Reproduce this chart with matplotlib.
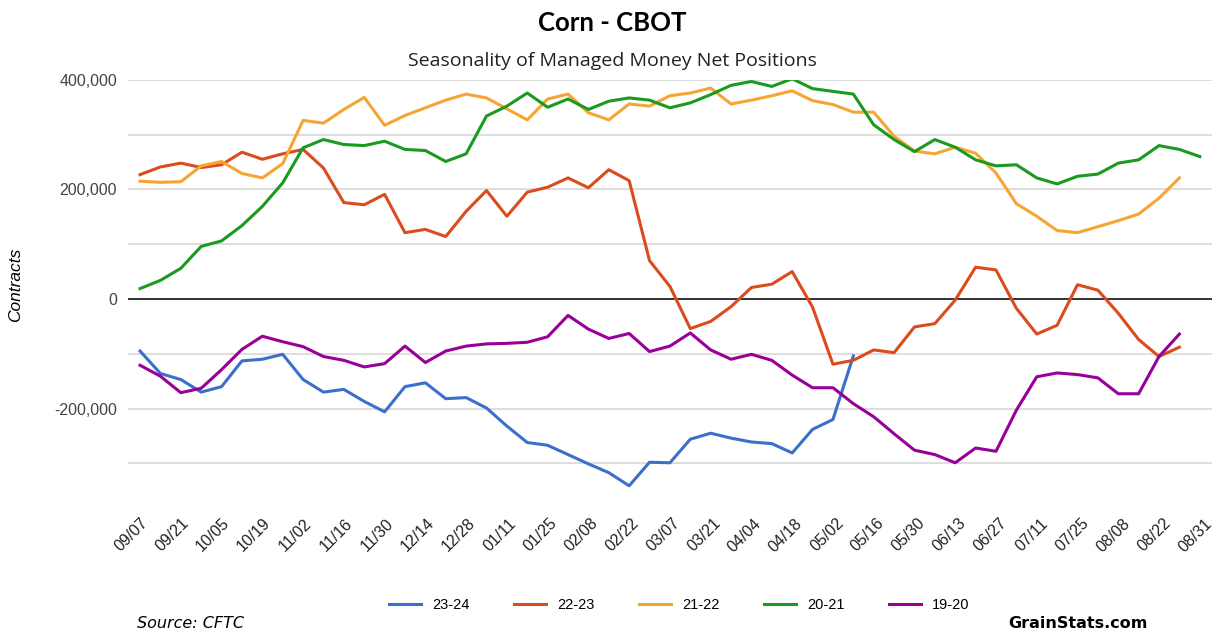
import matplotlib
matplotlib.use("Agg")
import matplotlib.pyplot as plt
import numpy as np
from matplotlib.lines import Line2D

tick_labels = ["09/07","09/21","10/05","10/19","11/02","11/16","11/30","12/14","12/28","01/11","01/25",
               "02/08","02/22","03/07","03/21","04/04","04/18","05/02","05/16","05/30","06/13","06/27",
               "07/11","07/25","08/08","08/22","08/31"]

s2324 = [-95,-136,-147,-170,-160,-113,-110,-101,-147,-170,-165,-187,-206,-160,-153,-182,-180,-199,
         -232,-262,-267,-284,-301,-317,-341,-298,-299,-256,-245,-254,-261,-264,-281,-238,-220,-104]
s2223 = [227,241,248,240,245,268,255,265,273,239,176,172,191,121,127,114,160,198,151,195,204,221,203,
         236,216,70,23,-54,-41,-14,21,27,50,-15,-119,-112,-93,-98,-51,-45,-2,58,53,-17,-64,-48,26,16,
         -26,-74,-105,-88]
s2122 = [215,213,214,243,251,229,221,247,326,321,346,368,317,335,349,363,374,367,347,327,365,374,340,
         327,356,352,371,376,385,356,363,371,380,362,355,341,341,297,270,265,277,266,230,174,151,125,
         121,132,143,155,184,221]
s2021 = [19,34,56,96,106,134,169,212,276,291,282,280,288,273,271,251,265,334,352,376,350,365,346,361,
         367,363,349,358,373,390,397,388,402,384,379,374,318,291,269,291,277,254,243,245,221,210,224,
         228,248,254,280,273,260]
s1920 = [-121,-141,-171,-163,-129,-92,-68,-78,-87,-105,-112,-124,-118,-86,-116,-95,-86,-82,-81,-79,-69,
         -30,-55,-72,-63,-96,-86,-62,-93,-110,-101,-112,-139,-162,-162,-191,-215,-246,-276,-284,-299,
         -272,-278,-203,-142,-135,-138,-144,-173,-173,-105,-64]

series = [("23-24", s2324, "#3a6fcb"), ("22-23", s2223, "#db4b1d"), ("21-22", s2122, "#f6a532"),
          ("20-21", s2021, "#1a9a1f"), ("19-20", s1920, "#990099")]

fig = plt.figure(figsize=(12.24, 6.44), dpi=100)
ax = fig.add_axes([0.1046, 0.238, 0.8856, 0.638])
for name, vals, c in series:
    v = np.array(vals) * 1000
    ax.plot(np.arange(len(v)), v, color=c, lw=2.2, solid_joinstyle="round")

ax.set_ylim(-350000, 400000)
ax.set_xlim(-0.59, 52.6)
for y in range(-300000, 400001, 100000):
    ax.axhline(y, color="#d8d8d8" if y != 0 else "#333333", lw=1.2 if y != 0 else 1.4, zorder=0)
for s in ax.spines.values():
    s.set_visible(False)
ax.set_yticks([-200000, 0, 200000, 400000])
ax.set_yticklabels(["-200,000", "0", "200,000", "400,000"], fontsize=11.5, color="#444444",
                   family="Liberation Sans")
ax.tick_params(length=0, pad=8)
xt = np.linspace(0, 52.2, 27)
ax.set_xticks(xt)
ax.set_xticklabels(tick_labels, rotation=45, ha="right", va="top", rotation_mode="anchor",
                   fontsize=11.5, color="#222222", family="Liberation Sans")
ax.tick_params(axis="x", pad=18)
ax.set_ylabel("Contracts", fontsize=12.5, style="italic", family="Liberation Sans", labelpad=22)

fig.text(0.5, 0.965, "Corn - CBOT", ha="center", va="center", fontsize=18.5, weight="bold", family="Lato")
fig.text(0.5, 0.905, "Seasonality of Managed Money Net Positions", ha="center", va="center",
         fontsize=14, family="Open Sans", color="#222222")

handles = [Line2D([0], [0], color=c, lw=2.2) for _, _, c in series]
fig.legend(handles, [n for n, _, _ in series], loc="center", bbox_to_anchor=(0.555, 0.06), ncol=5,
           frameon=False, handlelength=2.2, columnspacing=3.0,
           prop={"family": "Liberation Sans", "size": 10.5})
fig.text(0.112, 0.032, "Source: CFTC", fontsize=11.5, style="italic", family="DejaVu Sans", va="center")
fig.text(0.938, 0.032, "GrainStats.com", fontsize=11.5, weight="bold", family="DejaVu Sans",
         ha="right", va="center")
fig.savefig("out.png", dpi=100)
